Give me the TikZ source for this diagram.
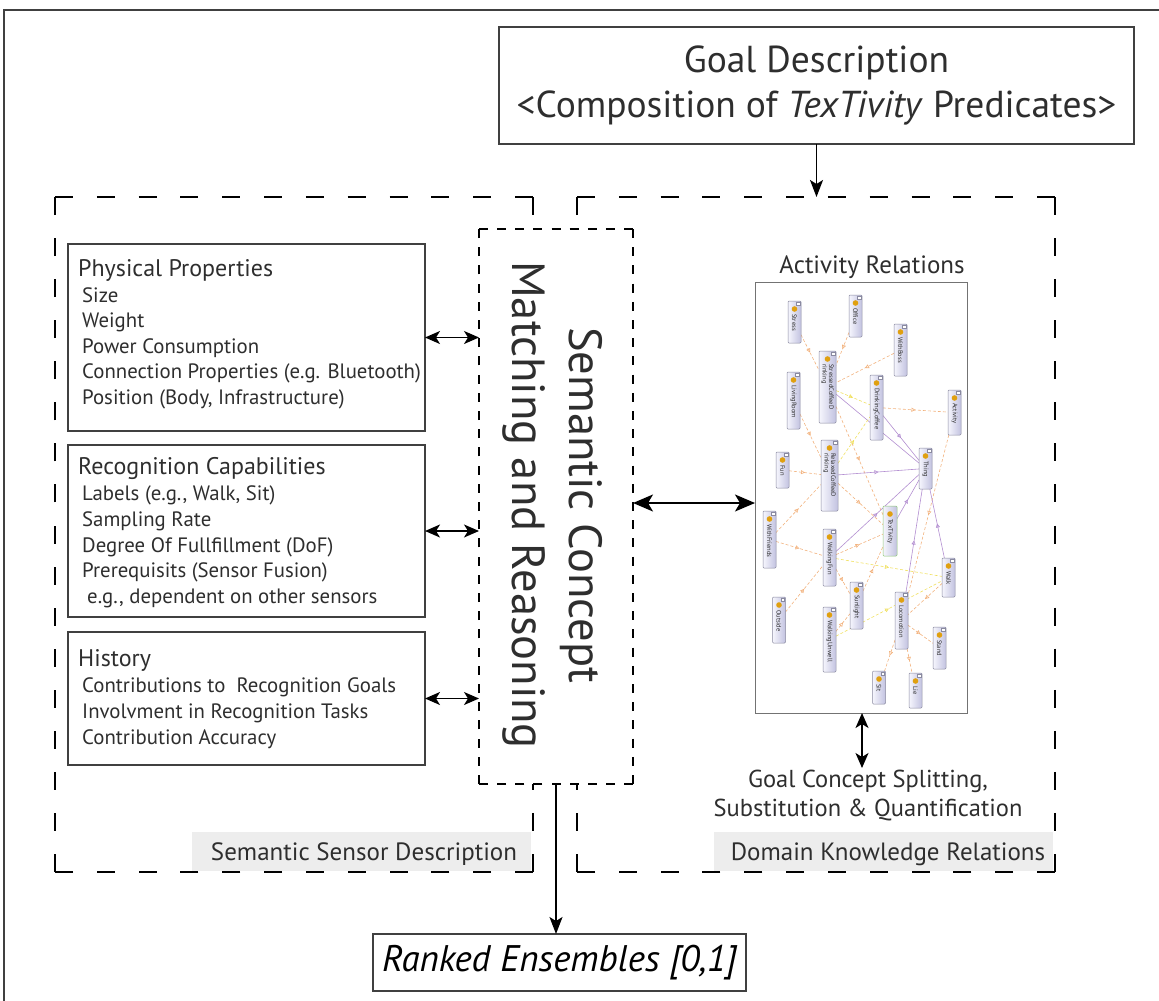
\documentclass[tikz,border=0pt]{standalone}
\usepackage{fontspec}
\setmainfont{PT Sans}
\usetikzlibrary{arrows.meta,decorations.markings}
\definecolor{txt}{HTML}{2E2E2E}
\definecolor{bord}{HTML}{404040}
\definecolor{lgray}{HTML}{EDEDED}
\definecolor{oorange}{HTML}{F2B27E}
\definecolor{opurple}{HTML}{B38FD1}
\definecolor{oyellow}{HTML}{F0E060}
\definecolor{odotc}{HTML}{E0A010}
\definecolor{ofillL}{HTML}{F6F6FD}
\definecolor{ofillR}{HTML}{C2C2E0}
\definecolor{oborder}{HTML}{8A8AA0}
\definecolor{ogreen}{HTML}{90C878}
\pgfdeclarelayer{bg}
\pgfsetlayers{bg,main}
\newcommand{\dside}[5]{%
  \pgfmathsetmacro{\dsn}{max(1,round((#3-#4)/#5))}%
  \pgfmathsetmacro{\dsoff}{(#3-#4)/\dsn-#4}%
  \draw[dash pattern=on #4pt off \dsoff pt] (#1) -- (#2);}
\newcommand{\dbox}[5]{%
  \dside{#1.north west}{#1.north east}{#2}{#4}{#5}%
  \dside{#1.north east}{#1.south east}{#3}{#4}{#5}%
  \dside{#1.south east}{#1.south west}{#2}{#4}{#5}%
  \dside{#1.south west}{#1.north west}{#3}{#4}{#5}}
\newcommand{\onode}[6]{%
  \node[obox, minimum width=#4, minimum height=#5] (#1) at (#2,#3) {};
  \fill[odotc] ([yshift=-8pt]#1.north) circle (2.8pt);
  \node[olab] (#1-l) at ([yshift=-13pt]#1.north) {#6};
  \draw[oborder, line width=0.3pt, fill=white] ([xshift=-4.5pt,yshift=-0.8pt]#1.north east) rectangle ([xshift=-1pt,yshift=-4.3pt]#1.north east);}
\newcommand{\onodeg}[6]{%
  \node[obox, draw=ogreen, minimum width=#4, minimum height=#5] (#1) at (#2,#3) {};
  \fill[odotc] ([yshift=-8pt]#1.north) circle (2.8pt);
  \node[olab] (#1-l) at ([yshift=-13pt]#1.north) {#6};}
\tikzset{
  ttl/.style={anchor=base west, inner sep=0, text=txt, font=\fontsize{24}{28}\selectfont},
  itm/.style={anchor=base west, inner sep=0, text=txt, font=\fontsize{20.8}{24}\selectfont},
  infobox/.style={draw=bord, line width=1.5pt, inner sep=0, outer sep=0},
  ghost/.style={inner sep=0, outer sep=0},
  graylab/.style={fill=lgray, inner sep=0, outer sep=0},
  labtxt/.style={anchor=base, inner sep=0, text=txt, font=\fontsize{25}{29}\selectfont},
  dbl/.style={{Stealth[length=15pt,width=13pt,inset=4pt]}-{Stealth[length=15pt,width=13pt,inset=4pt]}, line width=1.5pt},
  sgl/.style={-{Stealth[length=17pt,width=13pt,inset=4pt]}, line width=1.5pt},
  obox/.style={draw=oborder, line width=0.5pt, left color=ofillL, right color=ofillR, rounded corners=1pt, inner sep=0, outer sep=0},
  olab/.style={rotate=-90, anchor=west, align=left, inner sep=0, text=txt, font=\fontsize{6.5}{6.6}\selectfont},
  oedge/.style={draw=#1, line width=0.6pt, postaction={decorate},
    decoration={markings, mark=at position 0.5 with {\arrow{Triangle[open,length=4pt,width=4pt,color=#1]}}}},
  eo/.style={oedge=oorange, dash pattern=on 3pt off 2pt},
  ep/.style={oedge=opurple},
  ey/.style={oedge=oyellow, dash pattern=on 3pt off 2pt},
}
\begin{document}
\begin{tikzpicture}[x=1pt,y=-1pt]
\useasboundingbox (0,0) rectangle (1159,1001);
% outer frame
\coordinate (fbl) at (4,1010);
\coordinate (ftl) at (4,10);
\coordinate (ftr) at (1170,10);
\draw[line width=2pt, color=bord] (fbl) -- (ftl) -- (ftr);

% goal
\node[infobox, minimum width=635, minimum height=117, align=center, text=txt,
      font=\fontsize{37.5}{45}\selectfont] (goal) at (816.5,85.5)
      {Goal Description\\<Composition of \textit{TexTivity} Predicates>};

% dashed regions
\node[ghost, minimum width=478, minimum height=675] (ssd) at (294,534.5) {};
\node[ghost, minimum width=478, minimum height=675] (dkr) at (816,534.5) {};
\begin{scope}[line width=2pt, black]
\dbox{ssd}{478}{675}{18}{42}
\dbox{dkr}{478}{675}{18}{42}
\end{scope}

% gray labels
\node[graylab, minimum width=339, minimum height=39] (ssdL) at (361.5,851) {};
\node[labtxt] (ssdT) at (364,860) {Semantic Sensor Description};
\node[graylab, minimum width=339, minimum height=39] (dkrL) at (883.5,851) {};
\node[labtxt] (dkrT) at (888,860) {Domain Knowledge Relations};

% inner semantic box
\node[ghost, fill=white, minimum width=154, minimum height=555] (scm) at (556,506.5) {};
\begin{scope}[line width=1.5pt, black]
\dbox{scm}{154}{555}{9}{18}
\end{scope}
\node[rotate=-90, align=center, inner sep=0, text=txt, font=\fontsize{46.5}{57}\selectfont] (scmT) at (553,505)
  {Semantic Concept\\Matching and Reasoning};

% info boxes
\node[infobox, minimum width=357, minimum height=187] (phys) at (246.5,337.5) {};
\node[ttl] (p0) at (78,276) {Physical Properties};
\node[itm] (p1) at (82,302) {Size};
\node[itm] (p2) at (82,327) {Weight};
\node[itm] (p3) at (82,353) {Power Consumption};
\node[itm] (p4) at (82,378) {Connection Properties (e.g. Bluetooth)};
\node[itm] (p5) at (82,404) {Position (Body, Infrastructure)};

\node[infobox, minimum width=357, minimum height=172] (recog) at (246.5,531) {};
\node[ttl] (r0) at (78,474) {Recognition Capabilities};
\node[itm] (r1) at (82,500) {Labels (e.g., Walk, Sit)};
\node[itm] (r2) at (82,526) {Sampling Rate};
\node[itm] (r3) at (82,552) {Degree Of Fullfillment (DoF)};
\node[itm] (r4) at (82,577) {Prerequisits (Sensor Fusion)};
\node[itm] (r5) at (87,603) {e.g., dependent on other sensors};

\node[infobox, minimum width=357, minimum height=133] (hist) at (246.5,698.5) {};
\node[ttl] (h0) at (78,666) {History};
\node[itm] (h1) at (82,692) {Contributions to \ Recognition Goals};
\node[itm] (h2) at (82,718) {Involvment in Recognition Tasks};
\node[itm] (h3) at (82,744) {Contribution Accuracy};

\draw[dbl] (phys.east) -- (phys.east -| scm.west);
\draw[dbl] (recog.east) -- (recog.east -| scm.west);
\draw[dbl] (hist.east) -- (hist.east -| scm.west);

% activity relations
\node[labtxt] (actT) at (872,273) {Activity Relations};
\node[draw=black!55, line width=1pt, inner sep=0, outer sep=0, minimum width=212, minimum height=431] (act) at (861,497.5) {};

\onode{Stress}{794.5}{322}{13}{42}{Stress}
\onode{Office}{855.5}{316}{13}{42}{Office}
\onode{WithBoss}{900.5}{350}{13}{52}{WithBoss}
\onode{SCD}{827.5}{387}{17}{72}{StressedCoffeeD\\rinking}
\onode{LivingRoom}{793.5}{400.5}{13}{57}{LivingRoom}
\onode{DrinkingCoffee}{876.5}{407.5}{13}{65}{DrinkingCoffee}
\onode{Activity}{954.5}{412.5}{13}{45}{Activity}
\onode{Fun}{782.5}{470}{13}{36}{Fun}
\onode{RCD}{829.5}{475.5}{17}{71}{RelaxedCoffeeD\\rinking}
\onode{Thing}{925.5}{468.5}{13}{41}{Thing}
\onode{WithFriends}{769.5}{539.5}{13}{57}{WithFriends}
\onodeg{TexTivity}{890}{531}{14}{50}{TexTivity}
\onode{WalkingFun}{829.5}{557.5}{13}{57}{WalkingFun}
\onode{Walk}{948.5}{577.5}{13}{39}{Walk}
\onode{Outside}{779}{620}{13}{46}{Outside}
\onode{Sunlight}{856.5}{605.5}{13}{47}{Sunlight}
\onode{Locomotion}{901.5}{620.5}{13}{57}{Locomotion}
\onode{WalkingUnwell}{829.5}{639.5}{13}{65}{WalkingUnwell}
\onode{Stand}{939.5}{648}{13}{42}{Stand}
\onode{Sit}{879}{687.5}{13}{33}{Sit}
\onode{Lie}{915.5}{690.5}{13}{35}{Lie}

\begin{pgfonlayer}{bg}
\draw[eo] (Stress) -- (SCD);
\draw[eo] (Office) -- (SCD);
\draw[eo] (WithBoss) -- (SCD);
\draw[eo] (DrinkingCoffee) -- (Activity);
\draw[eo] (LivingRoom) -- (RCD);
\draw[eo] (Fun) -- (RCD);
\draw[eo] (SCD) -- (TexTivity);
\draw[eo] (RCD) -- (TexTivity);
\draw[eo] (WithFriends) -- (RCD);
\draw[eo] (WithFriends) -- (WalkingFun);
\draw[eo] (WalkingFun) -- (TexTivity);
\draw[eo] (Outside) -- (WalkingFun);
\draw[eo] (WalkingFun) -- (Sunlight);
\draw[eo] (Sunlight) -- (TexTivity);
\draw[eo] (WalkingUnwell) -- (Sunlight);
\draw[eo] (Activity) -- (Locomotion);
\draw[eo] (Walk) -- (Locomotion);
\draw[eo] (Locomotion) -- (Stand);
\draw[eo] (Locomotion) -- (Sit);
\draw[eo] (Locomotion) -- (Lie);
\draw[ep] (SCD) -- (Thing);
\draw[ep] (DrinkingCoffee) -- (Thing);
\draw[ep] (RCD) -- (Thing);
\draw[ep] (WalkingFun) -- (Thing);
\draw[ep] (TexTivity) -- (Thing);
\draw[ep] (Locomotion) -- (Thing);
\draw[ep] (Walk) -- (Thing);
\draw[ey] (SCD) -- (DrinkingCoffee);
\draw[ey] (RCD) -- (DrinkingCoffee);
\draw[ey] (WalkingFun) -- (Walk);
\draw[ey] (WalkingUnwell) -- (Walk);
\end{pgfonlayer}

\draw[{Stealth[length=20pt,width=17pt,inset=5pt]}-{Stealth[length=20pt,width=17pt,inset=5pt]}, line width=1.5pt]
  (scm.east |- 0,503) -- (act.west |- 0,503);

\coordinate (gcsTop) at (862,768);
\draw[dbl] (act.south -| gcsTop) -- (gcsTop);
\node[labtxt, font=\fontsize{24.5}{28}\selectfont] (gcs1) at (868,787) {Goal Concept Splitting,};
\node[labtxt, font=\fontsize{24.5}{28}\selectfont] (gcs2) at (868,816) {Substitution \& Quantification};

% goal arrow
\draw[sgl] (goal.south) -- (goal.south |- dkr.north);

% ranked
\node[infobox, minimum width=373, minimum height=57, text=black, font=\fontsize{37}{42}\selectfont\itshape] (rank) at (559.5,962.5) {Ranked Ensembles [0,1]};
\draw[sgl] (scm.south) -- (scm.south |- rank.north);
\end{tikzpicture}
\end{document}
